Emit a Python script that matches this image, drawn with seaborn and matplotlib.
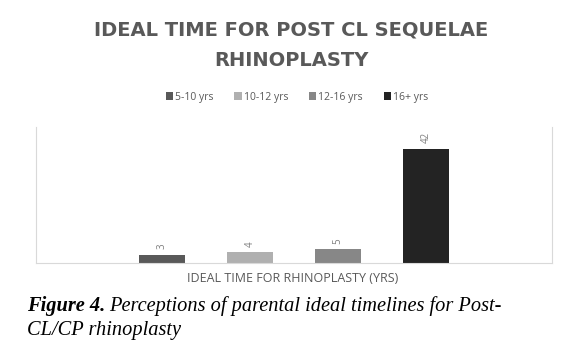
import matplotlib
matplotlib.use("Agg")
import matplotlib.pyplot as plt
import seaborn as sns
import pandas as pd
from matplotlib.patches import Patch

categories = ["5-10 yrs", "10-12 yrs", "12-16 yrs", "16+ yrs"]
values = [3, 4, 5, 42]
colors = ["#595959", "#b0b0b0", "#878787", "#232323"]

df = pd.DataFrame({"Time": categories, "Count": values})

sns.set_theme(style="white")
plt.rcParams["font.family"] = ["Open Sans", "DejaVu Sans"]

W, H = 569, 355
fig = plt.figure(figsize=(W / 100, H / 100), dpi=100)
ax = fig.add_axes([36 / W, 1 - 263 / H, (552 - 36) / W, (263 - 127) / H])

sns.barplot(data=df, x="Time", y="Count", hue="Time", order=categories,
            hue_order=categories, palette=colors, width=0.52, ax=ax,
            legend=False, saturation=1, edgecolor="none")

ax.set_xlim(-1.43, 4.43)
ax.set_ylim(0, 50)
ax.set_xticks([])
ax.set_yticks([])
ax.set_ylabel("")
ax.set_xlabel("")
for s in ["left", "right", "bottom"]:
    ax.spines[s].set_color("#d9d9d9")
    ax.spines[s].set_linewidth(0.8)
ax.spines["top"].set_visible(False)

for i, v in enumerate(values):
    ax.annotate(str(v), (i, v), xytext=(0, 4), textcoords="offset points",
                rotation=90, ha="center", va="bottom", fontsize=7,
                color="#7f7f7f")

fig.text(293 / W, 1 - 279 / H, "IDEAL TIME FOR RHINOPLASTY (YRS)",
         ha="center", va="center", fontsize=9, color="#595959")

for txt, y in [("IDEAL TIME FOR POST CL SEQUELAE", 30), ("RHINOPLASTY", 60)]:
    fig.text(291 / W, 1 - y / H, txt, ha="center", va="center", fontsize=14,
             fontweight="bold", color="#595959", family="DejaVu Sans")

handles = [Patch(facecolor=c, edgecolor="none") for c in colors]
fig.legend(handles, categories, loc="center", bbox_to_anchor=(297 / W, 1 - 97 / H),
           ncol=4, frameon=False, fontsize=7.5, handlelength=0.7, handleheight=0.7,
           handletextpad=0.2, columnspacing=2.0, labelcolor="#595959")

t1 = fig.text(27 / W, 1 - 306 / H, "Figure 4.", ha="left", va="center",
              fontsize=14.7, fontweight="bold", fontstyle="italic",
              family="Liberation Serif", color="black")
fig.canvas.draw()
bb = t1.get_window_extent()
fig.text(bb.x1 / W + 4 / W, 1 - 306 / H,
         "Perceptions of parental ideal timelines for Post-",
         ha="left", va="center", fontsize=14.7, fontstyle="italic",
         family="Liberation Serif", color="black")
fig.text(27 / W, 1 - 331 / H, "CL/CP rhinoplasty", ha="left", va="center",
         fontsize=14.7, fontstyle="italic", family="Liberation Serif", color="black")

fig.savefig("out.png", dpi=100)
